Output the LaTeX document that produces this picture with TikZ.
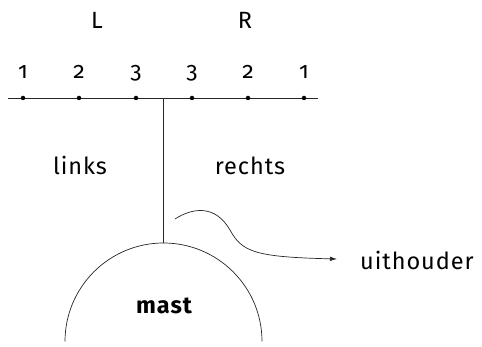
\documentclass[tikz,border=0pt]{standalone}
\usepackage{fontspec}
\setmainfont[Numbers=OldStyle]{Fira Sans}
\newfontfamily\spaced[Numbers=OldStyle,LetterSpace=4]{Fira Sans}
\usetikzlibrary{arrows.meta}
\begin{document}
\begin{tikzpicture}[x=1pt,y=-1pt,
  lbl/.style={font=\spaced\fontsize{23.5}{26}\selectfont, inner sep=0pt, anchor=base},
  num/.style={font=\fontsize{23}{26}\selectfont, inner sep=0pt, anchor=base},
  pt/.style={circle, fill=black, inner sep=0pt, minimum size=4.5pt},
  ln/.style={draw=black!85, line width=0.7pt}]
\useasboundingbox (0,0) rectangle (482,347);
% side labels
\node[lbl] (L) at (97,29) {L};
\node[lbl] (R) at (245,29) {R};
% bar with its six positions
\coordinate (b0) at (8,98);
\coordinate (b1) at (318,98);
\draw[ln] (b0) -- (b1);
\foreach \x/\n/\t in {23/l1/1, 79/l2/2, 136/l3/3, 192/r3/3, 248/r2/2, 304/r1/1}{
  \node[pt] (\n) at (\x,98) {};
  \node[num] (n\n) at (\x,79) {\t};
}
% mast: post from the bar down to a half dome
\coordinate (top) at (163.5,243);
\coordinate (joint) at (163.5,98);
\draw[ln] (joint) -- (top);
\draw[ln] (top) ++(-98.5,98.5) arc[start angle=180, end angle=360, radius=98.5];
\node[lbl, font=\spaced\fontsize{23.5}{26}\selectfont\bfseries] (mast) at (164,314) {mast};
\node[lbl] (links) at (80,175) {links};
\node[lbl] (rechts) at (250,175) {rechts};
% holder
\node[lbl, anchor=base west] (uith) at (360,270) {uithouder};
\coordinate (start) at (175,219);
\coordinate (tip) at (337,259);
\draw[ln, -{Latex[length=7pt,width=4.5pt]}] (start) .. controls (192,208) and (215,204) .. (230,230)
  .. controls (242,252) and (255,257) .. (tip);
\end{tikzpicture}
\end{document}
